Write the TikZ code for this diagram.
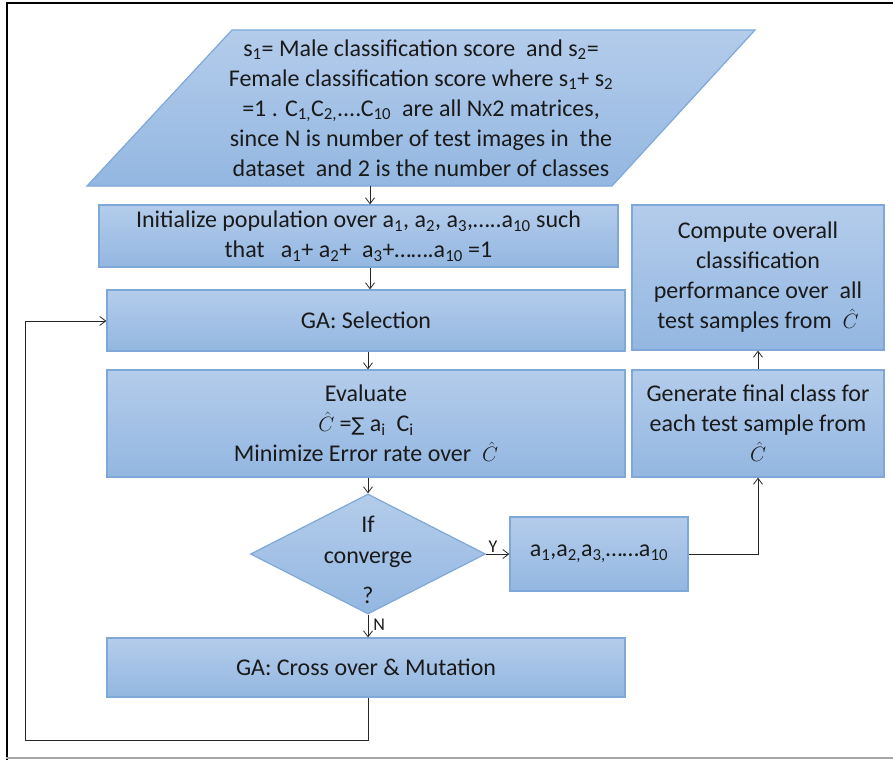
\documentclass[tikz,border=0pt]{standalone}
\usepackage{fontspec}
\setmainfont{Carlito}
\newfontfamily\symfont{DejaVu Sans}
\usetikzlibrary{arrows.meta,shapes.geometric}
\definecolor{boxtop}{HTML}{B4CCEB}
\definecolor{boxbot}{HTML}{93B7E1}
\definecolor{bordc}{HTML}{7FA8D8}
\definecolor{txt}{HTML}{1A1A1A}
\newcommand{\Ch}{{\fontsize{21}{21}\selectfont\smash{$\hat{C}$}}}
\newcommand{\sub}[1]{\textsubscript{#1}}
\begin{document}
\begin{tikzpicture}[x=1pt,y=-1pt,
  font=\fontsize{24}{30}\selectfont\color{txt},
  box/.style={draw=bordc, line width=1.2pt, top color=boxtop, bottom color=boxbot, align=center, inner sep=0pt},
  conn/.style={draw=black!85, line width=0.8pt},
  arr/.style={conn, -{Straight Barb[length=6pt,width=9pt]}},
  lbl/.style={font=\fontsize{18}{20}\selectfont\color{txt}, inner sep=1pt}]
\useasboundingbox (0,0) rectangle (893,760);
% frame
\draw[black, line width=1.3pt] (7,760) -- (7,3) -- (893,3);
\draw[black!35, line width=1.8pt] (6,758) -- (893,758);

% input parallelogram
\path[box] (232,30) -- (755,30) -- (612,186) -- (87,186) -- cycle;
\node[align=center, inner sep=0pt] (inp) at (421,108) {s\sub{1}= Male classification score~ and s\sub{2}=\\
Female classification score where s\sub{1}+ s\sub{2}\\
=1 . C\sub{1,}C\sub{2,}....C\sub{10}~ are all N{\fontsize{19}{19}\selectfont X}2 matrices,\\
since N is number of test images in~ the\\
dataset~ and 2 is the number of classes};
\coordinate (inpb) at (370,186);

\node[box, minimum width=519pt, minimum height=62pt] (init) at (358.5,236)
  {Initialize population over a\sub{1}, a\sub{2}, a\sub{3},…..a\sub{10} such\\
   that~~ a\sub{1}+ a\sub{2}+~ a\sub{3}+…….a\sub{10} =1};
\node[box, minimum width=518pt, minimum height=61pt] (sel) at (366,320.5) {GA: Selection};
\node[box, minimum width=518pt, minimum height=107pt] (eval) at (366,423.5)
  {Evaluate\\ \Ch\ ={\symfont\fontsize{19}{19}\selectfont ∑} a\sub{i}~ C\sub{i}\\ Minimize Error rate over~ \Ch};
\node[box, shape=diamond, shape aspect=1.96, minimum width=235pt, minimum height=120pt] (dec) at (368,554) {};
\node[align=center, inner sep=0pt] (dect) at (368,560) {If\\[1pt] converge\\[10pt] ?};
\node[box, minimum width=178pt, minimum height=74pt] (res) at (599,554) {a\sub{1},a\sub{2,}a\sub{3,}……a\sub{10}};
\node[box, minimum width=252pt, minimum height=107pt] (gen) at (758,423.5)
  {Generate final class for\\ each test sample from\\ \Ch};
\node[box, minimum width=252pt, minimum height=145pt] (comp) at (758,277.5)
  {Compute overall\\ classification\\ performance over~ all\\ test samples from~ \Ch};
\node[box, minimum width=518pt, minimum height=59pt] (cross) at (366,667.5) {GA: Cross over \& Mutation};
\coordinate (loopa) at (368,740);
\coordinate (loopb) at (25,740);
\coordinate (loopc) at (25,321);

% connectors
\draw[arr] (inpb) -- (inpb |- init.north);
\draw[arr] (init.south -| inpb) -- (sel.north -| inpb);
\draw[arr] (sel.south -| dec.north) -- (eval.north -| dec.north);
\draw[arr] (eval.south -| dec.north) -- (dec.north);
\draw[arr] (dec.east) -- node[lbl, above, pos=0.3] {Y} (res.west);
\draw[arr] (res.east) -- (gen.south |- res.east) -- (gen.south);
\draw[arr] (gen.north) -- (gen.north |- comp.south);
\draw[arr] (dec.south) -- node[lbl, right, pos=0.45, xshift=4pt] {N} (cross.north -| dec.south);
\draw[arr] (cross.south -| loopa) -- (loopa) -- (loopb) -- (loopc) -- (sel.west |- loopc);
\end{tikzpicture}
\end{document}
